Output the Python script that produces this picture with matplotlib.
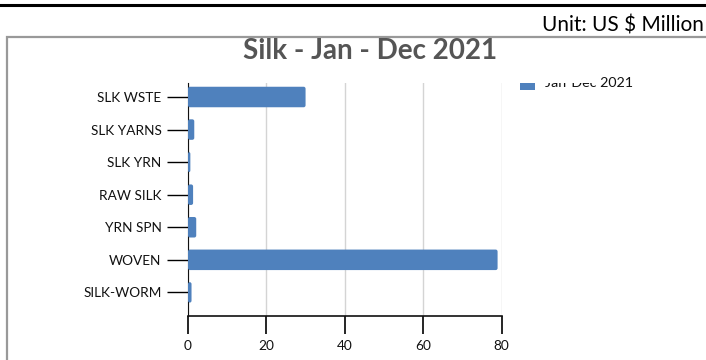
import matplotlib
matplotlib.use("Agg")
import matplotlib.pyplot as plt
from matplotlib.patches import Rectangle, FancyBboxPatch
from matplotlib.lines import Line2D
from matplotlib.transforms import Bbox
import numpy as np

# data (US $ Million), top to bottom as shown
categories = ["SLK WSTE", "SLK YARNS", "SLK YRN", "RAW SILK", "YRN SPN", "WOVEN", "SILK-WORM"]
values = [30.0, 1.6, 0.6, 1.3, 2.1, 79.0, 0.9]
xticks = [0, 20, 40, 60, 80]
series_name = "Jan-Dec 2021"

W, H = 706, 360
fig = plt.figure(figsize=(W / 100, H / 100), dpi=100)

def fx(px):
    return px / W

def fy(py):
    return 1 - py / H

# axes placement in pixels
left, right, top, bottom = 188, 501.5, 83, 315.5
ax = fig.add_axes([fx(left), fy(bottom), fx(right - left), (bottom - top) / H])

blue = "#4f81bd"
n = len(categories)
ypos = np.arange(n)[::-1]
bars = ax.barh(ypos, values, height=0.63, color=blue, zorder=3)
# slightly rounded bar ends
for b in bars:
    b.set_visible(False)
    x0, y0 = b.get_x(), b.get_y()
    w, h = b.get_width(), b.get_height()
    p = FancyBboxPatch((x0, y0), w, h, boxstyle="round,pad=0,rounding_size=0.5",
                       mutation_aspect=0.12, color=blue, zorder=3, lw=0)
    ax.add_patch(p)

ax.set_xlim(0, 80)
ax.set_ylim(-0.71, 6.43)
ax.set_yticks(ypos)
ax.set_yticklabels(categories, fontsize=9.8, family="Lato", color="#111111")
ax.set_xticks(xticks)
ax.set_xticklabels([str(t) for t in xticks], fontsize=9.8, family="Lato", color="#111111")
ax.tick_params(axis="y", length=15, width=1, pad=4)
ax.tick_params(axis="x", length=13, width=1.2, pad=5)
ax.grid(axis="x", color="#d4d4d4", lw=1, zorder=0)
for s in ["top", "right"]:
    ax.spines[s].set_visible(False)
ax.spines["left"].set_color("#111111")
ax.spines["bottom"].set_color("#111111")
ax.spines["bottom"].set_linewidth(1.2)

# top rule and outer frame
fig.add_artist(Line2D([0, 1], [fy(5), fy(5)], color="black", lw=2.2, transform=fig.transFigure))
fig.add_artist(Rectangle((fx(7), fy(400)), fx(760), (400 - 37) / H, transform=fig.transFigure,
                         fill=False, ec="#999999", lw=1.6))

fig.text(fx(704), fy(25), "Unit: US $ Million", ha="right", va="center",
         fontsize=15, family="Lato", color="black")
fig.text(fx(370), fy(51), "Silk - Jan - Dec 2021", ha="center", va="center",
         fontsize=20, family="Lato", fontweight="bold", color="#555555")

# legend, with the text cut off at the top as in the source
fig.add_artist(Rectangle((fx(520), fy(90)), fx(15), 7 / H, transform=fig.transFigure,
                         color=blue, lw=0))
clips = [Bbox([[0, 0], [598, H - 82.5]]), Bbox([[598, 0], [W, H]])]
for cb in clips:
    t = fig.text(fx(545), fy(83), series_name, ha="left", va="center",
                 fontsize=10.3, family="Lato", color="#111111")
    t.set_clip_box(cb)
    t.set_clip_on(True)

fig.savefig("out.png", dpi=100)
